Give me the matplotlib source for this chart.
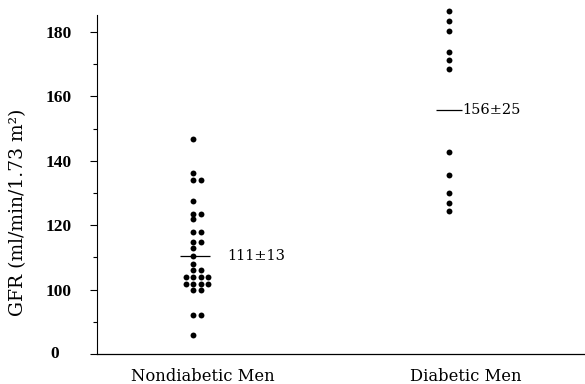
""" Scatter of GFR values for nondiabetic and diabetic men """

import matplotlib
matplotlib.use("Agg")
import matplotlib.pyplot as plt
import numpy as np

groups = ["Nondiabetic Men", "Diabetic Men"]
nondiabetic = [146.8, 136.2, 133.9, 133.9, 127.4, 123.6, 123.6, 122.0,
               117.8, 117.8, 114.7, 114.7, 112.9, 110.3, 107.8, 106.0,
               106.0, 103.8, 103.8, 103.8, 103.8, 101.8, 101.8, 101.8,
               101.8, 99.8, 99.8, 92.2, 92.2, 86.0]
diabetic = [186.5, 183.5, 180.3, 173.9, 171.3, 168.5, 142.6, 135.6,
            130.0, 126.9, 124.3]
mean_lines = [110.5, 155.8]
mean_texts = ["111\u00b113", "156\u00b125"]
y_ticks = [80, 100, 120, 140, 160, 180]
y_tick_labels = ["", "100", "120", "140", "160", "180"]


def swarm_x(values, base, step):
    """ spread dots that share a value sideways """
    xs = []
    vals = np.array(values)
    for v in np.unique(vals)[::-1]:
        n = int((vals == v).sum())
        for k in range(n):
            xs.append((v, base + (k - (n - 1) // 2) * step))
    return [p[1] for p in xs], [p[0] for p in xs]


fig = plt.figure(figsize=(5.85, 3.84), dpi=100)
ax = fig.add_axes([0.1658, 0.0781, 0.8342, 0.883])

step = 0.0293
for i, vals in enumerate([nondiabetic, diabetic]):
    x, y = swarm_x(vals, i + 1, step)
    ax.scatter(x, y, s=18, color="black", linewidths=0, clip_on=False,
               zorder=3)

# mean lines and labels
ax.hlines(mean_lines[0], 0.951, 1.068, color="black", lw=0.9)
ax.text(1.135, mean_lines[0], mean_texts[0], family="DejaVu Serif",
        fontsize=10.5, va="center", ha="left")
ax.hlines(mean_lines[1], 1.948, 2.05, color="black", lw=0.9)
ax.text(2.051, mean_lines[1], mean_texts[1], family="DejaVu Serif",
        fontsize=10.5, va="center", ha="left")

ax.set_xlim(0.625, 2.531)
ax.set_ylim(80, 185.3)
ax.set_yticks(y_ticks)
ax.set_yticklabels(y_tick_labels, family="Liberation Serif",
                   fontweight="bold", fontsize=12.5)
ax.set_yticks(np.arange(90, 180, 20), minor=True)
ax.tick_params(axis="y", which="major", length=5, width=0.8, pad=13)
ax.tick_params(axis="y", which="minor", length=3, width=0.8)
ax.text(-0.087, 0.0, "0", transform=ax.transAxes, family="Liberation Serif",
        fontweight="bold", fontsize=12.5, ha="center", va="center")

ax.set_xticks([1.039, 2.066])
ax.set_xticklabels(groups, family="DejaVu Serif", fontsize=11.8)
ax.tick_params(axis="x", length=0, pad=10)

ax.spines["top"].set_visible(False)
ax.spines["right"].set_visible(False)
ax.spines["left"].set_linewidth(0.8)
ax.spines["bottom"].set_linewidth(0.9)

ax.set_ylabel("GFR (ml/min/1.73 m\u00b2)", family="DejaVu Serif",
              fontsize=13.5)
ax.yaxis.set_label_coords(-0.143, 0.419)

fig.savefig("out.png", dpi=100)
